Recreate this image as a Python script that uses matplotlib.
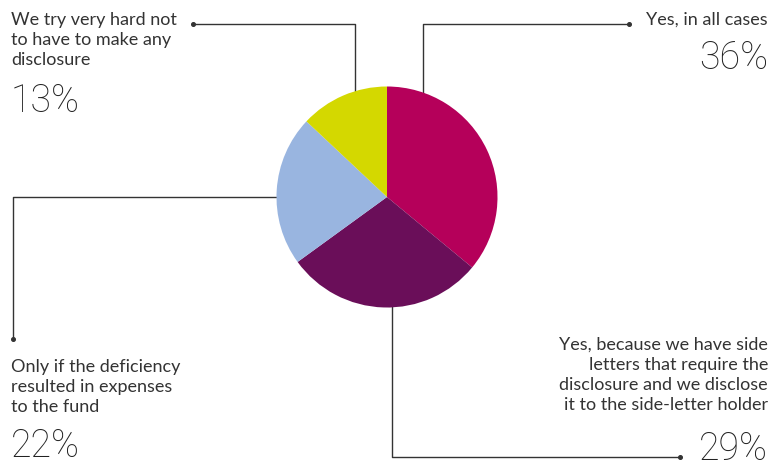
import matplotlib
matplotlib.use("Agg")
import matplotlib.pyplot as plt

# Survey answers, clockwise from 12 o'clock
labels = [
    "Yes, in all cases",
    "Yes, because we have side\nletters that require the\ndisclosure and we disclose\nit to the side-letter holder",
    "Only if the deficiency\nresulted in expenses\nto the fund",
    "We try very hard not\nto have to make any\ndisclosure",
]
values = [36, 29, 22, 13]
colors = ["#B5005A", "#6A0E59", "#99B5E0", "#D4D800"]

W, H = 776, 461
fig = plt.figure(figsize=(W / 100, H / 100), dpi=100)
ax = fig.add_axes([0, 0, 1, 1])

cx, cy, r = 387, 197, 110.5
ax.pie(values, colors=colors, startangle=-90, counterclock=True,
       center=(cx, cy), radius=r, frame=True,
       wedgeprops=dict(linewidth=0, zorder=3))
ax.set_xlim(0, W)
ax.set_ylim(H, 0)
ax.set_aspect("equal")
ax.axis("off")

line_kw = dict(color="#333333", lw=1.0, zorder=1, solid_capstyle="butt")
dot_kw = dict(marker="o", ms=2.6, color="#333333", zorder=2)

# leader lines (pixel layout)
leaders = [
    ([629, 423, 423], [24, 24, 120], (629, 24)),
    ([392, 392, 680], [260, 457, 457], (680, 457)),
    ([300, 13, 13], [197, 197, 339], (13, 339)),
    ([193, 355, 355], [24, 24, 120], (193, 24)),
]
for xs, ys, dot in leaders:
    ax.plot(xs, ys, **line_kw)
    ax.plot(*dot, **dot_kw)

label_font = dict(family="Lato", fontsize=13, color="#333333", linespacing=1.3)
pct_font = dict(family="Roboto", fontsize=27, color="#222222", weight="light")

# text anchors: (x, y_label_top, y_pct_baseline, alignment)
anchors = [
    (768, 12, 69, "right"),
    (768, 337, 460, "right"),
    (11, 359, 457, "left"),
    (11, 12, 112, "left"),
]
for lab, val, (x, yl, yp, ha) in zip(labels, values, anchors):
    ax.text(x, yl, lab, ha=ha, va="top", multialignment=ha, **label_font)
    ax.text(x, yp, f"{val}%", ha=ha, va="baseline", **pct_font)

fig.savefig("out.png", dpi=100, facecolor="white")
